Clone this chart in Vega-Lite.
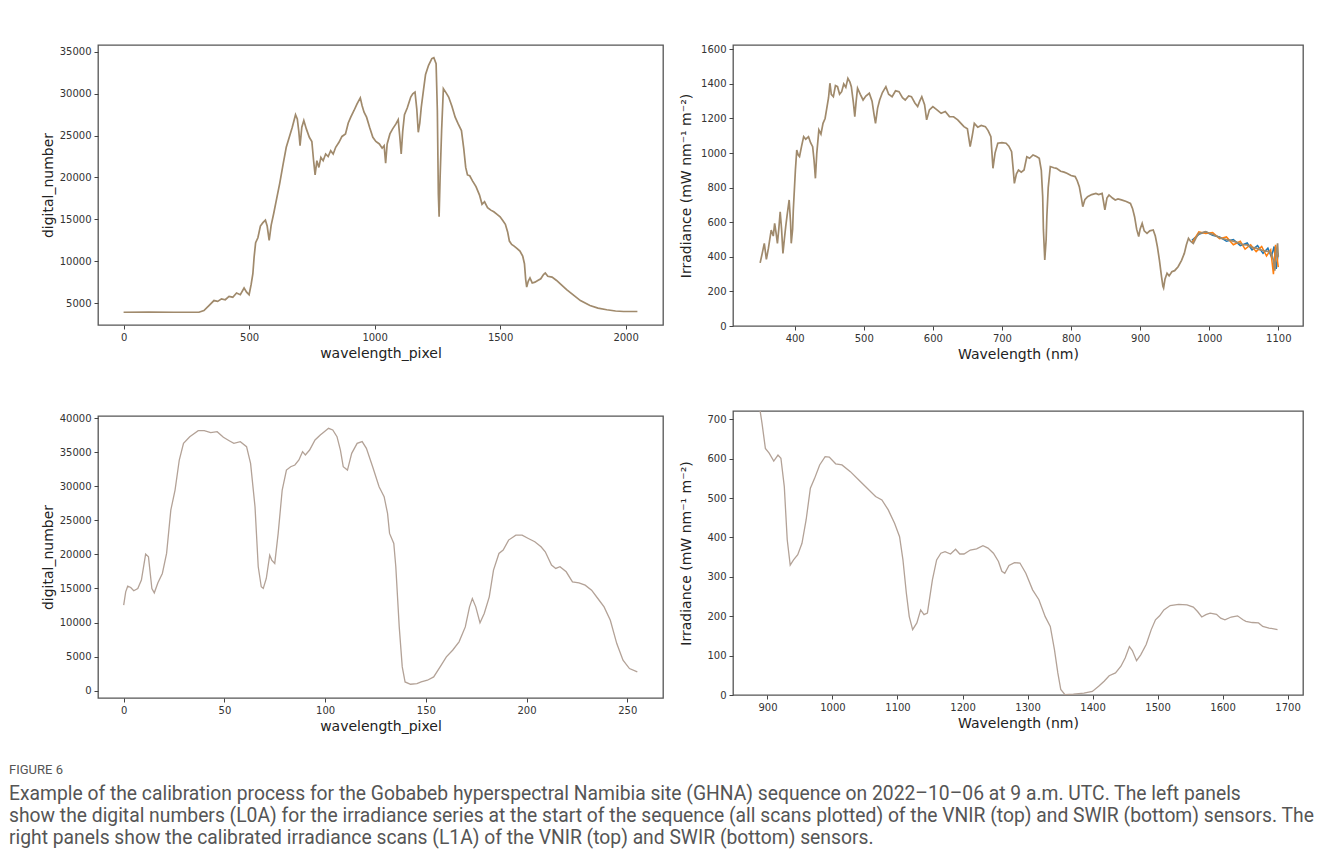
{
"$schema": "https://vega.github.io/schema/vega-lite/v6.json",
"background": "white",
"padding": {"left": 9, "top": 43, "right": 5, "bottom": 5},
"datasets": {
"tl": [{"x":0,"y":3900},{"x":100,"y":3920},{"x":200,"y":3900},{"x":300,"y":3900},{"x":320,"y":4100},{"x":340,"y":4700},{"x":360,"y":5300},{"x":375,"y":5200},{"x":390,"y":5500},{"x":405,"y":5400},{"x":420,"y":5800},{"x":435,"y":5700},{"x":450,"y":6200},{"x":465,"y":6000},{"x":480,"y":6800},{"x":490,"y":6300},{"x":500,"y":6000},{"x":508,"y":7200},{"x":515,"y":8500},{"x":520,"y":10500},{"x":526,"y":12200},{"x":535,"y":12800},{"x":545,"y":14200},{"x":555,"y":14600},{"x":565,"y":14900},{"x":572,"y":14200},{"x":580,"y":12500},{"x":588,"y":14300},{"x":598,"y":15700},{"x":610,"y":17500},{"x":622,"y":19300},{"x":635,"y":21500},{"x":648,"y":23600},{"x":660,"y":24800},{"x":672,"y":26000},{"x":685,"y":27500},{"x":692,"y":27000},{"x":698,"y":25500},{"x":703,"y":23800},{"x":710,"y":26000},{"x":718,"y":26800},{"x":728,"y":25800},{"x":740,"y":24800},{"x":750,"y":24300},{"x":757,"y":22000},{"x":763,"y":20300},{"x":770,"y":22000},{"x":778,"y":21200},{"x":786,"y":22400},{"x":795,"y":22000},{"x":805,"y":22800},{"x":815,"y":22500},{"x":825,"y":23200},{"x":835,"y":22800},{"x":845,"y":23600},{"x":858,"y":24200},{"x":870,"y":24900},{"x":884,"y":25200},{"x":895,"y":26500},{"x":905,"y":27200},{"x":918,"y":28000},{"x":930,"y":28800},{"x":943,"y":29500},{"x":950,"y":28600},{"x":958,"y":27800},{"x":968,"y":27200},{"x":980,"y":26000},{"x":993,"y":24800},{"x":1005,"y":24300},{"x":1019,"y":24000},{"x":1030,"y":23500},{"x":1038,"y":23800},{"x":1044,"y":21700},{"x":1050,"y":24000},{"x":1061,"y":25200},{"x":1072,"y":25800},{"x":1085,"y":26400},{"x":1094,"y":26900},{"x":1100,"y":25000},{"x":1106,"y":22800},{"x":1112,"y":25500},{"x":1119,"y":27500},{"x":1130,"y":28300},{"x":1144,"y":29600},{"x":1152,"y":30000},{"x":1161,"y":30200},{"x":1168,"y":28200},{"x":1174,"y":25400},{"x":1180,"y":26500},{"x":1186,"y":28400},{"x":1195,"y":30500},{"x":1203,"y":32300},{"x":1215,"y":33400},{"x":1228,"y":34200},{"x":1236,"y":34300},{"x":1245,"y":33600},{"x":1250,"y":28000},{"x":1254,"y":18000},{"x":1257,"y":15300},{"x":1261,"y":20000},{"x":1267,"y":25600},{"x":1274,"y":30600},{"x":1285,"y":30100},{"x":1295,"y":29600},{"x":1308,"y":28500},{"x":1321,"y":27200},{"x":1333,"y":26400},{"x":1346,"y":25600},{"x":1355,"y":23500},{"x":1363,"y":21200},{"x":1370,"y":20300},{"x":1379,"y":20200},{"x":1390,"y":19600},{"x":1404,"y":18900},{"x":1418,"y":17900},{"x":1428,"y":16800},{"x":1438,"y":17100},{"x":1450,"y":16400},{"x":1463,"y":16100},{"x":1475,"y":15900},{"x":1488,"y":15600},{"x":1500,"y":15300},{"x":1512,"y":14800},{"x":1521,"y":14400},{"x":1530,"y":13500},{"x":1537,"y":12400},{"x":1546,"y":12000},{"x":1556,"y":11800},{"x":1568,"y":11500},{"x":1579,"y":11200},{"x":1590,"y":10600},{"x":1597,"y":9700},{"x":1602,"y":7800},{"x":1606,"y":6900},{"x":1612,"y":7600},{"x":1619,"y":8000},{"x":1628,"y":7400},{"x":1639,"y":7500},{"x":1650,"y":7700},{"x":1662,"y":7900},{"x":1673,"y":8400},{"x":1680,"y":8600},{"x":1690,"y":8200},{"x":1707,"y":8100},{"x":1725,"y":7700},{"x":1740,"y":7300},{"x":1765,"y":6600},{"x":1790,"y":6000},{"x":1820,"y":5300},{"x":1858,"y":4700},{"x":1890,"y":4400},{"x":1925,"y":4200},{"x":1960,"y":4050},{"x":1992,"y":3990},{"x":2047,"y":3990}],
"tr": [{"x":350,"y":365,"s":"m"},{"x":353,"y":420,"s":"m"},{"x":356,"y":478,"s":"m"},{"x":359,"y":385,"s":"m"},{"x":362,"y":450,"s":"m"},{"x":366,"y":555,"s":"m"},{"x":369,"y":520,"s":"m"},{"x":371,"y":594,"s":"m"},{"x":373,"y":540,"s":"m"},{"x":375,"y":478,"s":"m"},{"x":377,"y":560,"s":"m"},{"x":379,"y":661,"s":"m"},{"x":381,"y":560,"s":"m"},{"x":383,"y":420,"s":"m"},{"x":385,"y":500,"s":"m"},{"x":387,"y":575,"s":"m"},{"x":389,"y":640,"s":"m"},{"x":392,"y":729,"s":"m"},{"x":394,"y":600,"s":"m"},{"x":395,"y":478,"s":"m"},{"x":397,"y":560,"s":"m"},{"x":398,"y":671,"s":"m"},{"x":401,"y":900,"s":"m"},{"x":403,"y":1018,"s":"m"},{"x":405,"y":990,"s":"m"},{"x":407,"y":980,"s":"m"},{"x":410,"y":1040,"s":"m"},{"x":413,"y":1095,"s":"m"},{"x":416,"y":1080,"s":"m"},{"x":420,"y":1095,"s":"m"},{"x":423,"y":1060,"s":"m"},{"x":426,"y":1037,"s":"m"},{"x":428,"y":960,"s":"m"},{"x":430,"y":854,"s":"m"},{"x":432,"y":1000,"s":"m"},{"x":435,"y":1134,"s":"m"},{"x":438,"y":1110,"s":"m"},{"x":441,"y":1172,"s":"m"},{"x":444,"y":1200,"s":"m"},{"x":446,"y":1249,"s":"m"},{"x":449,"y":1320,"s":"m"},{"x":451,"y":1404,"s":"m"},{"x":453,"y":1340,"s":"m"},{"x":456,"y":1326,"s":"m"},{"x":459,"y":1390,"s":"m"},{"x":462,"y":1384,"s":"m"},{"x":465,"y":1340,"s":"m"},{"x":468,"y":1355,"s":"m"},{"x":471,"y":1400,"s":"m"},{"x":474,"y":1380,"s":"m"},{"x":477,"y":1432,"s":"m"},{"x":480,"y":1410,"s":"m"},{"x":482,"y":1384,"s":"m"},{"x":485,"y":1290,"s":"m"},{"x":487,"y":1211,"s":"m"},{"x":489,"y":1300,"s":"m"},{"x":491,"y":1375,"s":"m"},{"x":495,"y":1340,"s":"m"},{"x":499,"y":1307,"s":"m"},{"x":503,"y":1330,"s":"m"},{"x":508,"y":1346,"s":"m"},{"x":512,"y":1300,"s":"m"},{"x":515,"y":1220,"s":"m"},{"x":517,"y":1172,"s":"m"},{"x":520,"y":1260,"s":"m"},{"x":523,"y":1307,"s":"m"},{"x":527,"y":1350,"s":"m"},{"x":532,"y":1384,"s":"m"},{"x":536,"y":1340,"s":"m"},{"x":541,"y":1326,"s":"m"},{"x":546,"y":1360,"s":"m"},{"x":551,"y":1355,"s":"m"},{"x":556,"y":1320,"s":"m"},{"x":560,"y":1307,"s":"m"},{"x":565,"y":1330,"s":"m"},{"x":569,"y":1326,"s":"m"},{"x":574,"y":1290,"s":"m"},{"x":578,"y":1269,"s":"m"},{"x":581,"y":1300,"s":"m"},{"x":584,"y":1326,"s":"m"},{"x":588,"y":1280,"s":"m"},{"x":591,"y":1192,"s":"m"},{"x":595,"y":1250,"s":"m"},{"x":600,"y":1269,"s":"m"},{"x":606,"y":1250,"s":"m"},{"x":612,"y":1230,"s":"m"},{"x":618,"y":1240,"s":"m"},{"x":624,"y":1211,"s":"m"},{"x":630,"y":1210,"s":"m"},{"x":636,"y":1192,"s":"m"},{"x":641,"y":1170,"s":"m"},{"x":645,"y":1153,"s":"m"},{"x":650,"y":1140,"s":"m"},{"x":654,"y":1037,"s":"m"},{"x":657,"y":1100,"s":"m"},{"x":660,"y":1172,"s":"m"},{"x":665,"y":1150,"s":"m"},{"x":670,"y":1160,"s":"m"},{"x":676,"y":1153,"s":"m"},{"x":680,"y":1130,"s":"m"},{"x":684,"y":1095,"s":"m"},{"x":687,"y":912,"s":"m"},{"x":690,"y":1000,"s":"m"},{"x":694,"y":1057,"s":"m"},{"x":700,"y":1060,"s":"m"},{"x":706,"y":1057,"s":"m"},{"x":710,"y":1040,"s":"m"},{"x":714,"y":1008,"s":"m"},{"x":716,"y":920,"s":"m"},{"x":718,"y":825,"s":"m"},{"x":721,"y":880,"s":"m"},{"x":724,"y":902,"s":"m"},{"x":728,"y":890,"s":"m"},{"x":732,"y":902,"s":"m"},{"x":736,"y":979,"s":"m"},{"x":740,"y":970,"s":"m"},{"x":745,"y":989,"s":"m"},{"x":750,"y":980,"s":"m"},{"x":754,"y":970,"s":"m"},{"x":757,"y":900,"s":"m"},{"x":759,"y":748,"s":"m"},{"x":760,"y":560,"s":"m"},{"x":762,"y":382,"s":"m"},{"x":764,"y":500,"s":"m"},{"x":765,"y":632,"s":"m"},{"x":767,"y":800,"s":"m"},{"x":770,"y":922,"s":"m"},{"x":775,"y":915,"s":"m"},{"x":779,"y":912,"s":"m"},{"x":785,"y":895,"s":"m"},{"x":790,"y":890,"s":"m"},{"x":794,"y":883,"s":"m"},{"x":800,"y":870,"s":"m"},{"x":806,"y":864,"s":"m"},{"x":809,"y":840,"s":"m"},{"x":812,"y":806,"s":"m"},{"x":815,"y":740,"s":"m"},{"x":817,"y":690,"s":"m"},{"x":820,"y":730,"s":"m"},{"x":824,"y":748,"s":"m"},{"x":830,"y":760,"s":"m"},{"x":836,"y":767,"s":"m"},{"x":840,"y":760,"s":"m"},{"x":845,"y":767,"s":"m"},{"x":847,"y":720,"s":"m"},{"x":849,"y":671,"s":"m"},{"x":852,"y":740,"s":"m"},{"x":855,"y":758,"s":"m"},{"x":860,"y":740,"s":"m"},{"x":864,"y":729,"s":"m"},{"x":868,"y":735,"s":"m"},{"x":873,"y":729,"s":"m"},{"x":880,"y":720,"s":"m"},{"x":886,"y":709,"s":"m"},{"x":889,"y":680,"s":"m"},{"x":892,"y":632,"s":"m"},{"x":895,"y":560,"s":"m"},{"x":898,"y":517,"s":"m"},{"x":900,"y":560,"s":"m"},{"x":903,"y":594,"s":"m"},{"x":906,"y":550,"s":"m"},{"x":910,"y":536,"s":"m"},{"x":914,"y":550,"s":"m"},{"x":919,"y":555,"s":"m"},{"x":922,"y":520,"s":"m"},{"x":925,"y":459,"s":"m"},{"x":928,"y":380,"s":"m"},{"x":931,"y":285,"s":"m"},{"x":933,"y":230,"s":"m"},{"x":934,"y":220,"s":"m"},{"x":936,"y":270,"s":"m"},{"x":939,"y":305,"s":"m"},{"x":942,"y":290,"s":"m"},{"x":946,"y":314,"s":"m"},{"x":950,"y":320,"s":"m"},{"x":955,"y":343,"s":"m"},{"x":960,"y":380,"s":"m"},{"x":964,"y":420,"s":"m"},{"x":967,"y":470,"s":"m"},{"x":970,"y":507,"s":"m"},{"x":973,"y":490,"s":"m"},{"x":977,"y":478,"s":"m"},{"x":981,"y":510,"s":"m"},{"x":985,"y":536,"s":"m"},{"x":990,"y":540,"s":"m"},{"x":995,"y":545,"s":"m"},{"x":1000,"y":536,"s":"m"},{"x":1005,"y":530,"s":"m"},{"x":1010,"y":520,"s":"m"},{"x":1018,"y":507,"s":"m"},{"x":1025,"y":500,"s":"m"},{"x":1031,"y":495,"s":"m"},{"x":1037,"y":488,"s":"m"},{"x":1043,"y":480,"s":"m"},{"x":1049,"y":470,"s":"m"},{"x":1055,"y":469,"s":"m"},{"x":1062,"y":455,"s":"m"},{"x":1068,"y":450,"s":"m"},{"x":1074,"y":440,"s":"m"},{"x":1080,"y":435,"s":"m"},{"x":1086,"y":430,"s":"m"},{"x":1090,"y":420,"s":"m"},{"x":1093,"y":380,"s":"m"},{"x":1095,"y":320,"s":"m"},{"x":1097,"y":420,"s":"m"},{"x":1099,"y":478,"s":"m"},{"x":1100,"y":400,"s":"m"},
{"x":975,"y":495,"s":"b"},{"x":985,"y":530,"s":"b"},{"x":995,"y":545,"s":"b"},{"x":1005,"y":525,"s":"b"},{"x":1015,"y":515,"s":"b"},{"x":1025,"y":490,"s":"b"},{"x":1035,"y":500,"s":"b"},{"x":1045,"y":465,"s":"b"},{"x":1055,"y":480,"s":"b"},{"x":1062,"y":440,"s":"b"},{"x":1070,"y":465,"s":"b"},{"x":1078,"y":420,"s":"b"},{"x":1085,"y":450,"s":"b"},{"x":1090,"y":400,"s":"b"},{"x":1094,"y":460,"s":"b"},{"x":1097,"y":330,"s":"b"},{"x":1100,"y":420,"s":"b"},
{"x":975,"y":480,"s":"o"},{"x":985,"y":545,"s":"o"},{"x":995,"y":535,"s":"o"},{"x":1005,"y":540,"s":"o"},{"x":1015,"y":505,"s":"o"},{"x":1025,"y":515,"s":"o"},{"x":1035,"y":470,"s":"o"},{"x":1045,"y":490,"s":"o"},{"x":1052,"y":445,"s":"o"},{"x":1060,"y":470,"s":"o"},{"x":1068,"y":430,"s":"o"},{"x":1076,"y":460,"s":"o"},{"x":1083,"y":405,"s":"o"},{"x":1089,"y":440,"s":"o"},{"x":1093,"y":300,"s":"o"},{"x":1096,"y":470,"s":"o"},{"x":1100,"y":340,"s":"o"}],
"bl": [{"x":0,"y":12550},{"x":1,"y":14510},{"x":2,"y":15340},{"x":3.5,"y":15150},{"x":5,"y":14660},{"x":7,"y":15000},{"x":8.8,"y":16230},{"x":10.9,"y":20050},{"x":12.3,"y":19660},{"x":14,"y":15000},{"x":15.2,"y":14360},{"x":17,"y":15830},{"x":19.2,"y":17200},{"x":21.3,"y":20150},{"x":23.4,"y":26520},{"x":25.5,"y":29460},{"x":27.6,"y":33870},{"x":29.7,"y":36320},{"x":32.8,"y":37300},{"x":37,"y":38190},{"x":40,"y":38190},{"x":43.2,"y":37890},{"x":46.4,"y":38040},{"x":49.5,"y":37210},{"x":52.6,"y":36670},{"x":54.7,"y":36320},{"x":57.9,"y":36570},{"x":61,"y":35830},{"x":63,"y":33380},{"x":65.2,"y":27010},{"x":66.8,"y":18190},{"x":68.3,"y":15250},{"x":69.3,"y":15000},{"x":70.8,"y":16470},{"x":72.5,"y":19900},{"x":73.5,"y":19170},{"x":75,"y":18680},{"x":76.7,"y":23090},{"x":78.7,"y":29460},{"x":80.8,"y":32400},{"x":82.9,"y":32890},{"x":85,"y":33140},{"x":87,"y":33870},{"x":88.8,"y":35100},{"x":90.2,"y":34610},{"x":92.3,"y":35340},{"x":95,"y":36810},{"x":97.6,"y":37550},{"x":99.6,"y":38040},{"x":101.7,"y":38530},{"x":103.8,"y":38280},{"x":105.9,"y":37300},{"x":107.6,"y":35340},{"x":109,"y":32890},{"x":111.1,"y":32400},{"x":113.2,"y":34850},{"x":115.9,"y":36320},{"x":118.4,"y":36570},{"x":120.5,"y":35590},{"x":123.6,"y":32890},{"x":126.8,"y":29950},{"x":129.3,"y":28480},{"x":131,"y":26030},{"x":132,"y":23090},{"x":134.1,"y":21620},{"x":135.1,"y":18190},{"x":136.8,"y":9360},{"x":138.3,"y":3480},{"x":139.7,"y":1270},{"x":142.4,"y":930},{"x":145.6,"y":1030},{"x":147.7,"y":1270},{"x":150.8,"y":1520},{"x":153.9,"y":2010},{"x":157.1,"y":3480},{"x":160.2,"y":4950},{"x":163.3,"y":5930},{"x":166.5,"y":7160},{"x":169.6,"y":9360},{"x":171.7,"y":12300},{"x":173.1,"y":13530},{"x":174.8,"y":12300},{"x":176.9,"y":9950},{"x":179,"y":11320},{"x":181.5,"y":13770},{"x":183.6,"y":17700},{"x":186.3,"y":20150},{"x":188.4,"y":20640},{"x":191.1,"y":22110},{"x":194.7,"y":22840},{"x":197.8,"y":22840},{"x":200.9,"y":22350},{"x":204.1,"y":21860},{"x":207.2,"y":21130},{"x":209.3,"y":20390},{"x":212.4,"y":18430},{"x":214.5,"y":17940},{"x":216.6,"y":18190},{"x":219.7,"y":17450},{"x":222.8,"y":15980},{"x":226,"y":15830},{"x":229.1,"y":15490},{"x":232.3,"y":14760},{"x":235.4,"y":13530},{"x":238.5,"y":12300},{"x":241.6,"y":10340},{"x":244.8,"y":6910},{"x":247.9,"y":4460},{"x":251.1,"y":3240},{"x":255,"y":2750}],
"br": [{"x":887,"y":740},{"x":891.6,"y":690},{"x":896.8,"y":626},{"x":902.6,"y":614},{"x":909.7,"y":594},{"x":916.2,"y":609},{"x":920.7,"y":601},{"x":925.9,"y":529},{"x":930.4,"y":394},{"x":935,"y":330},{"x":940.1,"y":343},{"x":946.6,"y":356},{"x":953.1,"y":385},{"x":959.5,"y":445},{"x":966,"y":525},{"x":972.5,"y":550},{"x":980.3,"y":584},{"x":988.7,"y":605},{"x":995.1,"y":604},{"x":1004.9,"y":587},{"x":1014.6,"y":584},{"x":1027.5,"y":567},{"x":1040.5,"y":546},{"x":1053.4,"y":525},{"x":1066.3,"y":504},{"x":1076,"y":495},{"x":1085.8,"y":470},{"x":1095.5,"y":436},{"x":1103.2,"y":402},{"x":1108.4,"y":343},{"x":1113.6,"y":259},{"x":1118.1,"y":199},{"x":1123.3,"y":166},{"x":1129.8,"y":183},{"x":1135.6,"y":216},{"x":1140.8,"y":204},{"x":1146,"y":208},{"x":1153.7,"y":292},{"x":1160.2,"y":343},{"x":1166.7,"y":360},{"x":1173.1,"y":364},{"x":1181.6,"y":358},{"x":1189.3,"y":370},{"x":1195.8,"y":358},{"x":1202.3,"y":358},{"x":1212,"y":368},{"x":1221.7,"y":371},{"x":1231.4,"y":379},{"x":1239.2,"y":373},{"x":1247.6,"y":360},{"x":1255.3,"y":339},{"x":1260.5,"y":314},{"x":1265,"y":309},{"x":1271.5,"y":329},{"x":1279.9,"y":336},{"x":1288.3,"y":335},{"x":1297.4,"y":309},{"x":1307.8,"y":267},{"x":1317.5,"y":242},{"x":1327.2,"y":199},{"x":1335,"y":174},{"x":1341.4,"y":115},{"x":1346.6,"y":56},{"x":1351.1,"y":14},{"x":1357.6,"y":1},{"x":1370.6,"y":2},{"x":1386.7,"y":5},{"x":1399.7,"y":9},{"x":1409.4,"y":22},{"x":1417.8,"y":35},{"x":1425.6,"y":49},{"x":1435.3,"y":56},{"x":1443.7,"y":73},{"x":1450.2,"y":94},{"x":1456.7,"y":123},{"x":1461.2,"y":113},{"x":1467.7,"y":87},{"x":1474.1,"y":102},{"x":1482.5,"y":128},{"x":1490.3,"y":166},{"x":1496.8,"y":191},{"x":1503.2,"y":201},{"x":1509.7,"y":216},{"x":1519.4,"y":227},{"x":1532.4,"y":230},{"x":1545.3,"y":229},{"x":1555,"y":223},{"x":1561.5,"y":212},{"x":1568,"y":198},{"x":1574.4,"y":204},{"x":1580.9,"y":208},{"x":1590.6,"y":205},{"x":1597.1,"y":195},{"x":1603.6,"y":191},{"x":1613.3,"y":198},{"x":1623,"y":201},{"x":1631.4,"y":191},{"x":1635.9,"y":187},{"x":1645.6,"y":184},{"x":1655.3,"y":183},{"x":1661.8,"y":174},{"x":1671.5,"y":170},{"x":1684.5,"y":166}]
},
"title": {
"text": "FIGURE 6",
"subtitle": ["Example of the calibration process for the Gobabeb hyperspectral Namibia site (GHNA) sequence on 2022–10–06 at 9 a.m. UTC. The left panels", "show the digital numbers (L0A) for the irradiance series at the start of the sequence (all scans plotted) of the VNIR (top) and SWIR (bottom) sensors. The", "right panels show the calibrated irradiance scans (L1A) of the VNIR (top) and SWIR (bottom) sensors."],
"orient": "bottom", "anchor": "start", "frame": "group", "dx": -89, "offset": 30,
"font": "Roboto, sans-serif", "fontSize": 13, "fontWeight": "normal", "color": "#555",
"subtitleFont": "Roboto, sans-serif", "subtitleFontSize": 19.3, "subtitleColor": "#555", "subtitleLineHeight": 22, "subtitlePadding": 8.5
},
"bounds": "full",
"spacing": 14,
"hconcat": [
{"bounds": "flush", "spacing": 91, "vconcat": [
 {"width": 565, "height": 280, "data": {"name": "tl"},
  "mark": {"type": "line", "color": "#a08a6c", "strokeWidth": 1.7},
  "encoding": {
   "x": {"field": "x", "type": "quantitative", "scale": {"domain": [-102, 2149], "nice": false, "zero": false}, "axis": {"title": "wavelength_pixel", "values": [0, 500, 1000, 1500, 2000]}},
   "y": {"field": "y", "type": "quantitative", "scale": {"domain": [2380, 35820], "nice": false, "zero": false}, "axis": {"title": "digital_number", "values": [5000, 10000, 15000, 20000, 25000, 30000, 35000]}}
  }},
 {"width": 565, "height": 282, "data": {"name": "bl"},
  "mark": {"type": "line", "color": "#b3a297", "strokeWidth": 1.3},
  "encoding": {
   "x": {"field": "x", "type": "quantitative", "scale": {"domain": [-12.75, 267.75], "nice": false, "zero": false}, "axis": {"title": "wavelength_pixel", "values": [0, 50, 100, 150, 200, 250]}},
   "y": {"field": "y", "type": "quantitative", "scale": {"domain": [-1088, 40338], "nice": false, "zero": false}, "axis": {"title": "digital_number", "values": [0, 5000, 10000, 15000, 20000, 25000, 30000, 35000, 40000]}}
  }}
]},
{"bounds": "flush", "spacing": 85, "vconcat": [
 {"width": 570, "height": 281, "data": {"name": "tr"},
  "layer": [
   {"transform": [{"filter": "datum.s != 'm'"}],
    "mark": {"type": "line", "strokeWidth": 1.5},
    "encoding": {"color": {"field": "s", "type": "nominal", "scale": {"domain": ["b", "o"], "range": ["#1f77b4", "#ff7f0e"]}, "legend": null}}},
   {"transform": [{"filter": "datum.s == 'm'"}],
    "mark": {"type": "line", "color": "#a08a6c", "strokeWidth": 1.7}}
  ],
  "encoding": {
   "x": {"field": "x", "type": "quantitative", "scale": {"domain": [310.7, 1135.8], "nice": false, "zero": false}, "axis": {"title": "Wavelength (nm)", "values": [400, 500, 600, 700, 800, 900, 1000, 1100]}},
   "y": {"field": "y", "type": "quantitative", "scale": {"domain": [0, 1625], "nice": false, "zero": false}, "axis": {"title": "Irradiance (mW nm⁻¹ m⁻²)", "titlePadding": 7, "values": [0, 200, 400, 600, 800, 1000, 1200, 1400, 1600]}}
  }},
 {"width": 570, "height": 284, "data": {"name": "br"},
  "mark": {"type": "line", "color": "#b3a297", "strokeWidth": 1.3, "clip": true},
  "encoding": {
   "x": {"field": "x", "type": "quantitative", "scale": {"domain": [847, 1723.7], "nice": false, "zero": false}, "axis": {"title": "Wavelength (nm)", "values": [900, 1000, 1100, 1200, 1300, 1400, 1500, 1600, 1700]}},
   "y": {"field": "y", "type": "quantitative", "scale": {"domain": [0, 721], "nice": false, "zero": false}, "axis": {"title": "Irradiance (mW nm⁻¹ m⁻²)", "titlePadding": 13.4, "values": [0, 100, 200, 300, 400, 500, 600, 700]}}
  }}
]}
],
"config": {
 "view": {"stroke": "#555", "strokeWidth": 1.3},
 "axis": {"labelFont": "DejaVu Sans", "labelFontSize": 10, "labelColor": "#333", "titleFont": "DejaVu Sans", "titleFontSize": 14, "titleFontWeight": "normal", "titleColor": "#222", "tickColor": "#444", "tickSize": 4, "domain": false, "grid": false, "labelPadding": 3, "titlePadding": 4, "format": "d", "labelFlush": false, "labelOverlap": false}
}
}
